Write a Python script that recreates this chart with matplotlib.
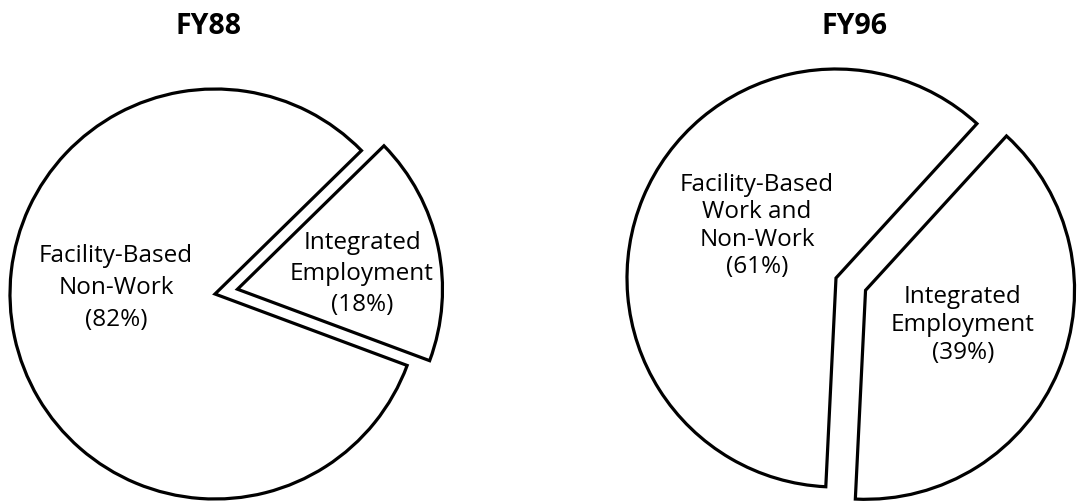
import matplotlib
matplotlib.use("Agg")
import matplotlib.pyplot as plt

# Data
titles = ["FY88", "FY96"]
categories_fy88 = ["Integrated\nEmployment\n(18%)", "Facility-Based\nNon-Work\n(82%)"]
values_fy88 = [18, 82]
categories_fy96 = ["Integrated\nEmployment\n(39%)", "Facility-Based\nWork and\nNon-Work\n(61%)"]
values_fy96 = [39, 61]

W, H = 1080, 501
fig = plt.figure(figsize=(W / 100, H / 100), dpi=100)
ax = fig.add_axes([0, 0, 1, 1])

wp = dict(facecolor="white", edgecolor="black", linewidth=2.3, joinstyle="miter")

# FY88 pie
ax.pie(values_fy88, center=(215, H - 294), radius=205, startangle=-20.4,
       counterclock=True, explode=[23, 0], wedgeprops=wp, frame=True)
# FY96 pie
ax.pie(values_fy96, center=(836, H - 278), radius=209, startangle=-92.8,
       counterclock=True, explode=[32, 0], wedgeprops=wp, frame=True)

ax.set_xlim(0, W)
ax.set_ylim(0, H)
ax.set_aspect("auto")
ax.axis("off")

fam = ["Open Sans", "DejaVu Sans"]
tkw = dict(ha="center", va="center", fontsize=17.5, family=fam, color="black", multialignment="center")

ax.text(209, H - 26, titles[0], ha="center", va="center", fontsize=20.5, fontweight="bold", family=fam)
ax.text(855, H - 26, titles[1], ha="center", va="center", fontsize=20.5, fontweight="bold", family=fam)

ax.text(116, H - 288, categories_fy88[1], linespacing=1.42, **tkw)
ax.text(362, H - 274, categories_fy88[0], linespacing=1.37, **tkw)
ax.text(757, H - 226, categories_fy96[1], linespacing=1.2, **tkw)
ax.text(963, H - 325, categories_fy96[0], linespacing=1.24, **tkw)

fig.savefig("out.png", dpi=100)
